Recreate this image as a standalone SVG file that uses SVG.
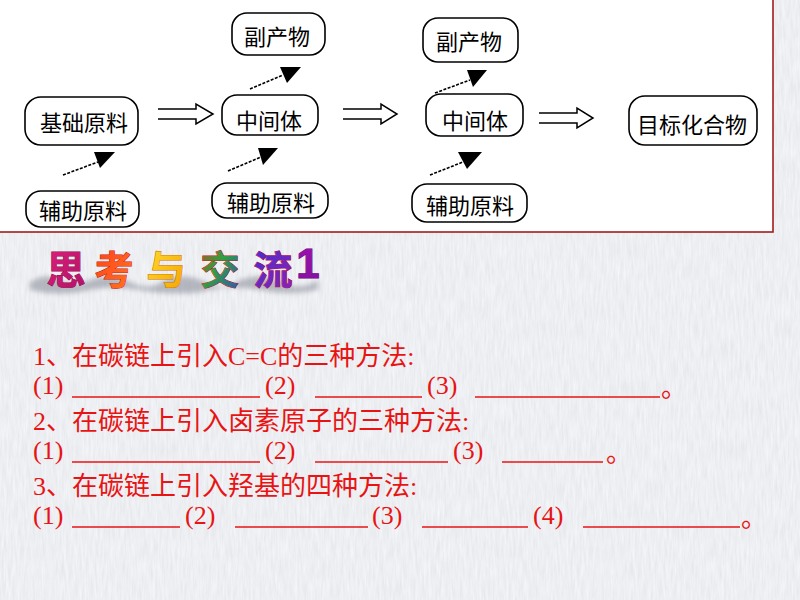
<svg xmlns="http://www.w3.org/2000/svg" width="800" height="600" viewBox="0 0 800 600">
  <defs>
    <filter id="fabric" x="0" y="0" width="100%" height="100%">
      <feTurbulence type="fractalNoise" baseFrequency="0.45 0.05" numOctaves="3" seed="7" result="n"/>
      <feColorMatrix in="n" type="matrix" values="0.16 0 0 0 0.77  0.16 0 0 0 0.78  0.16 0 0 0 0.81  0 0 0 0 1"/>
    </filter>
    <filter id="blur" x="-20%" y="-100%" width="140%" height="300%">
      <feGaussianBlur stdDeviation="2.5"/>
    </filter>
    <linearGradient id="g1" x1="0" y1="0" x2="1" y2="1">
      <stop offset="0" stop-color="#e0207a"/><stop offset="1" stop-color="#b0106a"/>
    </linearGradient>
    <linearGradient id="g2" x1="0" y1="0" x2="1" y2="1">
      <stop offset="0" stop-color="#ff3a1a"/><stop offset="1" stop-color="#ff7a20"/>
    </linearGradient>
    <linearGradient id="g3" x1="0" y1="0" x2="1" y2="1">
      <stop offset="0" stop-color="#ffe030"/><stop offset="1" stop-color="#f4a000"/>
    </linearGradient>
    <linearGradient id="g4" x1="0" y1="0" x2="1" y2="1">
      <stop offset="0" stop-color="#d04020"/><stop offset="0.45" stop-color="#30a040"/><stop offset="1" stop-color="#3050c0"/>
    </linearGradient>
    <linearGradient id="g5" x1="0" y1="0" x2="1" y2="1">
      <stop offset="0" stop-color="#4030d0"/><stop offset="1" stop-color="#9020b0"/>
    </linearGradient>
    <linearGradient id="g6" x1="0" y1="0" x2="0" y2="1">
      <stop offset="0" stop-color="#a010b0"/><stop offset="1" stop-color="#8010a0"/>
    </linearGradient>
    <style>
      .box { fill: #ffffff; stroke: #000000; stroke-width: 1.6; }
      .lbl { font-family: "Noto Sans CJK SC", "Noto Sans", sans-serif; font-size: 22px; fill: #000000; text-anchor: middle; dominant-baseline: central; }
      .dbl { fill: none; stroke: #000000; stroke-width: 1.5; stroke-linejoin: miter; }
      .dash { stroke: #000000; stroke-width: 1.6; stroke-dasharray: 3 1.5; }
      .tri { fill: #000000; }
      .red { font-family: "Liberation Serif", "Noto Sans CJK SC", serif; font-size: 26px; fill: #e81414; }
      .blank { stroke: #e81414; stroke-width: 1.5; }
      .ttl { font-family: "Noto Sans CJK SC", sans-serif; font-size: 39px; font-weight: bold; text-anchor: middle; stroke-width: 1; paint-order: stroke; }
      .shd { fill: #8e919c; opacity: 0.6; }
    </style>
  </defs>

  <!-- background -->
  <rect x="0" y="0" width="800" height="600" fill="#d8dae1"/>
  <rect x="0" y="0" width="800" height="600" filter="url(#fabric)"/>

  <!-- white panel -->
  <rect x="-2" y="-2" width="775" height="234" fill="#ffffff" stroke="#a01c1c" stroke-width="1.6"/>

  <!-- connectors -->
  <g id="connectors">
    <path class="dbl" d="M158,109 H196 V104 L213,114 L196,124 V119 H158"/>
    <path class="dbl" d="M343,109 H381 V104 L397,114 L381,124 V119 H343"/>
    <path class="dbl" d="M539,113 H577 V108 L593,118 L577,128 V123 H539"/>

    <line class="dash" x1="63" y1="175" x2="98" y2="162"/>
    <polygon class="tri" points="94,152 115,152 100,168"/>
    <line class="dash" x1="228" y1="171" x2="261" y2="157"/>
    <polygon class="tri" points="258,148 278,148 263,165"/>
    <line class="dash" x1="250" y1="89" x2="283" y2="75"/>
    <polygon class="tri" points="280,67 301,67 287,83"/>
    <line class="dash" x1="435" y1="93" x2="470" y2="80"/>
    <polygon class="tri" points="467,70 487,70 473,87"/>
    <line class="dash" x1="430" y1="175" x2="463" y2="162"/>
    <polygon class="tri" points="458,152 482,152 467,169"/>
  </g>

  <!-- nodes -->
  <g id="node-jichuyuanliao">
    <rect class="box" x="25" y="97" width="113" height="48" rx="16"/>
    <text class="lbl" x="84" y="121">基础原料</text>
  </g>
  <g id="node-fuzhu1">
    <rect class="box" x="26" y="191" width="113" height="36" rx="15"/>
    <text class="lbl" x="83" y="209">辅助原料</text>
  </g>
  <g id="node-fuchan1">
    <rect class="box" x="232" y="13" width="93" height="42" rx="15"/>
    <text class="lbl" x="277" y="35">副产物</text>
  </g>
  <g id="node-zhongjian1">
    <rect class="box" x="222" y="95" width="96" height="40" rx="15"/>
    <text class="lbl" x="269" y="119">中间体</text>
  </g>
  <g id="node-fuzhu2">
    <rect class="box" x="212" y="183" width="116" height="35" rx="15"/>
    <text class="lbl" x="271" y="201">辅助原料</text>
  </g>
  <g id="node-fuchan2">
    <rect class="box" x="423" y="18" width="95" height="44" rx="15"/>
    <text class="lbl" x="469" y="40">副产物</text>
  </g>
  <g id="node-zhongjian2">
    <rect class="box" x="426" y="94" width="97" height="42" rx="15"/>
    <text class="lbl" x="475" y="119">中间体</text>
  </g>
  <g id="node-fuzhu3">
    <rect class="box" x="412" y="184" width="115" height="38" rx="15"/>
    <text class="lbl" x="470" y="204">辅助原料</text>
  </g>
  <g id="node-mubiao">
    <rect class="box" x="629" y="96" width="128" height="49" rx="16"/>
    <text class="lbl" x="692" y="123">目标化合物</text>
  </g>

  <!-- title -->
  <g id="title">
    <g filter="url(#blur)">
      <path class="shd" d="M30,282 Q45,272 60,280 T90,280 Q110,272 130,282 T165,280 Q185,272 205,282 T240,280 Q260,272 280,282 T318,280 L318,290 Q290,296 260,290 T200,292 Q170,296 140,290 T80,292 Q55,296 30,290 Z"/>
    </g>
    <text class="ttl" x="66" y="284" fill="url(#g1)" stroke="#8a0a40">思</text>
    <text class="ttl" x="114" y="284" fill="url(#g2)" stroke="#c02010">考</text>
    <text class="ttl" x="166" y="284" fill="url(#g3)" stroke="#d07000">与</text>
    <text class="ttl" x="220" y="284" fill="url(#g4)" stroke="#c02020">交</text>
    <text class="ttl" x="273" y="284" fill="url(#g5)" stroke="#c01040">流</text>
    <text x="308" y="278" font-family="Liberation Sans, sans-serif" font-size="42" font-weight="bold" text-anchor="middle" fill="url(#g6)" stroke="#600070" stroke-width="1" paint-order="stroke">1</text>
  </g>

  <!-- questions -->
  <g id="questions">
    <text class="red" x="33" y="365">1、在碳链上引入C=C的三种方法:</text>
    <text class="red" x="33" y="394">(1)</text>
    <line class="blank" x1="72" y1="397" x2="260" y2="397"/>
    <text class="red" x="265" y="394">(2)</text>
    <line class="blank" x1="315" y1="397" x2="422" y2="397"/>
    <text class="red" x="427" y="394">(3)</text>
    <line class="blank" x1="475" y1="397" x2="660" y2="397"/>
    <text class="red" x="661" y="397">。</text>

    <text class="red" x="33" y="430">2、在碳链上引入卤素原子的三种方法:</text>
    <text class="red" x="33" y="459">(1)</text>
    <line class="blank" x1="72" y1="462" x2="260" y2="462"/>
    <text class="red" x="265" y="459">(2)</text>
    <line class="blank" x1="315" y1="462" x2="448" y2="462"/>
    <text class="red" x="453" y="459">(3)</text>
    <line class="blank" x1="502" y1="462" x2="603" y2="462"/>
    <text class="red" x="606" y="462">。</text>

    <text class="red" x="33" y="495">3、在碳链上引入羟基的四种方法:</text>
    <text class="red" x="33" y="524">(1)</text>
    <line class="blank" x1="72" y1="527" x2="180" y2="527"/>
    <text class="red" x="185" y="524">(2)</text>
    <line class="blank" x1="235" y1="527" x2="368" y2="527"/>
    <text class="red" x="372" y="524">(3)</text>
    <line class="blank" x1="422" y1="527" x2="528" y2="527"/>
    <text class="red" x="533" y="524">(4)</text>
    <line class="blank" x1="583" y1="527" x2="740" y2="527"/>
    <text class="red" x="741" y="527">。</text>
  </g>
</svg>
